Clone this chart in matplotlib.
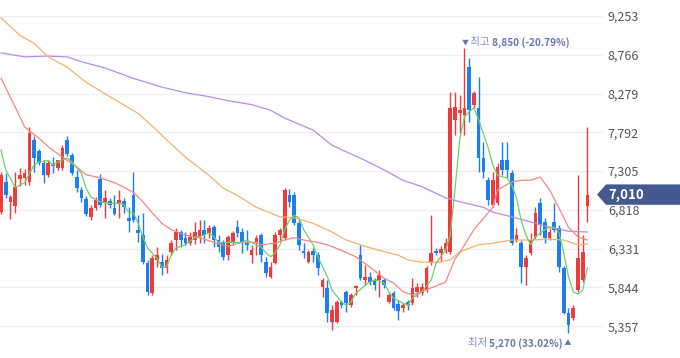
import numpy as np
import matplotlib
matplotlib.use('Agg')
import matplotlib.pyplot as plt
import matplotlib.transforms as mtransforms
from matplotlib.patches import Polygon

plt.rcParams['font.family'] = ['Noto Sans CJK KR', 'DejaVu Sans']

# ============================================================
#  일봉 데이터 (시가 / 고가 / 저가 / 종가)
# ============================================================
opens = [6790, 7170, 6920, 6870, 7210, 7220, 7170, 7700, 7560, 7410,
         7260, 7390, 7340, 7340, 7700, 7510, 7230, 7070, 6950, 6730,
         6840, 7210, 6900, 6930, 6840, 6900, 6930, 6720, 7000, 6570,
         6500, 6150, 5770, 6190, 6160, 6090, 6290, 6440, 6540, 6470,
         6400, 6440, 6460, 6570, 6530, 6600, 6440, 6400, 6250, 6400,
         6600, 6540, 6410, 6250, 6400, 6500, 6160, 5970, 6150, 6500,
         6460, 7000, 7000, 6650, 6300, 6160, 6300, 6250, 5850, 5840,
         5410, 5410, 5660, 5790, 5620, 5840, 6250, 5940, 5980, 5940,
         5940, 5940, 5660, 5770, 5640, 5590, 5660, 5650, 5790, 5770,
         5810, 6160, 6300, 6280, 6310, 6290, 7950, 8040, 8010, 8610,
         8140, 8100, 7470, 7190, 6880, 6900, 7440, 7440, 7280, 6440,
         6400, 6100, 6280, 6480, 6900, 6670, 6470, 6670, 6590, 6090,
         5520, 5460, 5810, 5940, 6870]
highs = [7290, 7280, 7000, 7290, 7340, 7330, 7860, 7750, 7580, 7440,
         7440, 7480, 7440, 7630, 7750, 7530, 7320, 7110, 6990, 6880,
         6980, 7270, 7070, 6970, 7000, 7070, 6970, 6850, 7290, 6750,
         6780, 6190, 6250, 6350, 6260, 6250, 6440, 6590, 6570, 6540,
         6540, 6670, 6690, 6690, 6630, 6630, 6500, 6440, 6500, 6550,
         6690, 6590, 6570, 6380, 6500, 6530, 6230, 6160, 6540, 6590,
         7090, 7080, 7040, 6690, 6400, 6310, 6340, 6290, 5960, 5940,
         5620, 5690, 5690, 5810, 5770, 5870, 6380, 6130, 6040, 5960,
         6060, 5960, 5770, 5800, 5690, 5650, 5690, 5960, 5900, 5900,
         6110, 6750, 6340, 6360, 6460, 8300, 8300, 8260, 8850, 8730,
         8310, 8490, 7670, 7230, 7290, 7410, 7670, 7670, 7320, 6590,
         6440, 6250, 6530, 6850, 6970, 6720, 6590, 6900, 6630, 6110,
         5590, 5620, 7260, 6500, 7860]
lows = [6770, 6970, 6700, 6780, 7120, 7130, 7130, 7290, 7380, 7160,
        7230, 7280, 7320, 7320, 7500, 7260, 7040, 6920, 6740, 6690,
        6820, 6850, 6720, 6840, 6750, 6720, 6780, 6540, 6670, 6410,
        6140, 5750, 5750, 6100, 6000, 6030, 6250, 6310, 6350, 6380,
        6380, 6390, 6400, 6400, 6470, 6350, 6290, 6190, 6190, 6380,
        6480, 6280, 6310, 6150, 6250, 6160, 5970, 5960, 6140, 6440,
        6440, 6850, 6630, 6310, 6210, 6150, 6160, 6000, 5720, 5410,
        5310, 5400, 5590, 5540, 5600, 5750, 5940, 5870, 5870, 5810,
        5720, 5840, 5650, 5560, 5440, 5540, 5560, 5620, 5720, 5750,
        5790, 6130, 6250, 6160, 6280, 6260, 7760, 7780, 7760, 7920,
        8100, 7290, 7220, 6880, 6850, 6880, 7260, 7220, 6380, 6410,
        5900, 5870, 6250, 6450, 6500, 6400, 6440, 6540, 6040, 5510,
        5270, 5440, 5790, 5910, 6670]
closes = [7260, 7000, 6980, 7110, 7260, 7280, 7780, 7470, 7410, 7260,
          7410, 7370, 7440, 7600, 7520, 7280, 7090, 6970, 6770, 6840,
          6940, 6880, 6970, 6880, 6770, 6940, 6850, 6680, 6690, 6530,
          6160, 5790, 6210, 6250, 6090, 6190, 6400, 6540, 6440, 6400,
          6480, 6540, 6570, 6500, 6590, 6440, 6350, 6230, 6480, 6530,
          6530, 6400, 6380, 6310, 6470, 6250, 6030, 6100, 6500, 6570,
          7070, 6920, 6650, 6380, 6280, 6290, 6250, 6090, 5940, 5520,
          5560, 5660, 5620, 5650, 5750, 5860, 5960, 5980, 5910, 5870,
          6000, 5870, 5750, 5590, 5550, 5620, 5620, 5840, 5850, 5850,
          6090, 6280, 6280, 6330, 6400, 8100, 8110, 8070, 8100, 8070,
          8290, 7470, 7290, 6940, 7190, 7360, 7320, 7320, 6400, 6500,
          6100, 6210, 6440, 6780, 6630, 6460, 6540, 6570, 6100, 5520,
          5370, 5590, 6210, 6290, 7010]

# 이동평균선 (차트에서 읽은 값, 봉 인덱스 기준)
ma5_idx = [0, 1, 3, 4, 5, 7, 8, 10, 11, 12, 14, 15, 17, 18, 19, 21, 23, 25, 26, 27,
           28, 29, 30, 31, 33, 34, 35, 36, 37, 39, 41, 42, 44, 45, 46, 48, 49, 51, 52, 53,
           55, 56, 57, 58, 59, 60, 61, 62, 63, 64, 66, 67, 69, 70, 72, 73, 74, 75, 77, 78,
           79, 81, 82, 83, 85, 86, 87, 89, 91, 92, 94, 95, 96, 97, 98, 99, 100, 101, 103, 104,
           105, 107, 108, 109, 110, 111, 112, 113, 115, 116, 117, 118, 119, 120, 121, 122, 123, 124]
ma5 = [7570, 7320, 7100, 7130, 7160, 7380, 7420, 7440, 7380, 7420, 7470, 7420, 7280, 7090, 6980, 6920, 6900, 6900, 6880, 6790,
       6780, 6650, 6480, 6340, 6210, 6100, 6100, 6250, 6340, 6380, 6470, 6480, 6530, 6480, 6410, 6410, 6410, 6410, 6440, 6410,
       6350, 6280, 6230, 6280, 6380, 6570, 6690, 6750, 6720, 6570, 6380, 6230, 5980, 5810, 5660, 5620, 5660, 5770, 5870, 5910,
       5940, 5900, 5790, 5710, 5650, 5620, 5710, 5790, 5940, 6150, 6310, 6500, 7070, 7700, 7990, 8050, 8100, 7950, 7600, 7380,
       7250, 7220, 7130, 6970, 6690, 6500, 6380, 6480, 6570, 6600, 6600, 6530, 6280, 5980, 5790, 5760, 5810, 6090]

ma20_idx = [0, 3, 5, 8, 10, 13, 16, 18, 21, 24, 28, 30, 32, 34, 36, 39, 42, 45, 48, 51,
            54, 55, 58, 60, 62, 64, 67, 69, 72, 75, 78, 81, 83, 85, 87, 89, 91, 94, 96, 97,
            100, 103, 104, 105, 108, 110, 112, 114, 116, 118, 120, 122, 124]
ma20 = [8470, 8110, 7860, 7720, 7610, 7480, 7360, 7260, 7220, 7160, 7040, 6920, 6780, 6650, 6570, 6500, 6470, 6410, 6360, 6410,
        6410, 6380, 6400, 6440, 6470, 6440, 6410, 6380, 6310, 6230, 6100, 5960, 5900, 5790, 5750, 5790, 5840, 5910, 6200, 6280,
        6570, 6780, 6850, 7070, 7170, 7190, 7190, 7230, 7070, 6840, 6600, 6480, 6440]

ma60_idx = [0, 4, 7, 10, 14, 18, 23, 29, 32, 35, 39, 44, 47, 50, 54, 57, 59, 62, 66, 70,
            73, 77, 80, 84, 86, 89, 92, 95, 97, 101, 104, 108, 112, 116, 119, 122, 124]
ma60 = [9230, 9010, 8910, 8740, 8610, 8420, 8240, 8030, 7870, 7700, 7480, 7250, 7090, 7000, 6850, 6780, 6730, 6720, 6650, 6540,
        6440, 6360, 6310, 6250, 6190, 6160, 6160, 6190, 6290, 6380, 6400, 6440, 6440, 6450, 6440, 6380, 6390]

ma120_idx = [0, 5, 10, 14, 17, 22, 28, 34, 39, 44, 48, 53, 57, 60, 66, 70, 77, 81, 85, 89,
             94, 97, 102, 104, 110, 116, 120, 124]
ma120 = [8790, 8740, 8750, 8740, 8680, 8600, 8470, 8360, 8290, 8240, 8190, 8140, 8070, 7970, 7820, 7630, 7440, 7320, 7190, 7110,
         6970, 6920, 6850, 6790, 6700, 6600, 6550, 6540]

y_ticks = [5357, 5844, 6331, 6818, 7305, 7792, 8279, 8766, 9253]

high_idx, high_val, high_pct = 98, 8850, '-20.79%'
low_idx, low_val, low_pct = 120, 5270, '33.02%'

RED = '#F03B3B'
BLUE = '#1C7FEF'
TAG = '#44598F'
ANNO = '#6476AE'
ANNO_LIGHT = '#8290BE'

# ============================================================
#  차트 그리기
# ============================================================
fig = plt.figure(figsize=(6.8, 3.58), dpi=100)
ax = fig.add_axes([0, 0, 603 / 680, 1])

o = np.array(opens)
h = np.array(highs)
l = np.array(lows)
c = np.array(closes)
x = np.arange(len(c))
colors = np.where(c >= o, RED, BLUE)

ax.vlines(x, l, h, colors=colors, linewidth=1.0, zorder=2)
ax.bar(x, np.maximum(np.abs(c - o), 14), bottom=np.minimum(o, c),
       width=0.78, color=colors, linewidth=0, zorder=2)

ax.plot(ma120_idx, ma120, color='#B68AF3', lw=0.9, zorder=3)
ax.plot(ma60_idx, ma60, color='#F7B26C', lw=0.9, zorder=3)
ax.plot(ma20_idx, ma20, color='#FA8585', lw=0.9, zorder=3)
ax.plot(ma5_idx, ma5, color='#6FCF6A', lw=0.9, zorder=3)

ax.set_xlim(-0.21, 127.3)
ax.set_ylim(4958, 9454)
ax.set_xticks([])
ax.yaxis.tick_right()
ax.set_yticks(y_ticks)
ax.set_yticklabels([f'{t:,}' for t in y_ticks])
ax.tick_params(axis='y', length=0, pad=3.5, labelsize=9, labelcolor='#555555')
ax.grid(axis='y', color='#EFF0F7', linewidth=1, zorder=0)
for s in ax.spines.values():
    s.set_visible(False)

# 현재가 태그
blend = mtransforms.blended_transform_factory(fig.transFigure, ax.transData)
last = closes[-1]
hh = 128
tag = Polygon([(597 / 680, last), (606 / 680, last + hh), (1.0, last + hh),
               (1.0, last - hh), (606 / 680, last - hh)],
              closed=True, facecolor=TAG, edgecolor='none',
              transform=blend, clip_on=False, zorder=10)
fig.add_artist(tag)
fig.text(608 / 680, last, f'{last:,}', transform=blend, color='white',
         fontsize=9.5, fontweight='bold', va='center', ha='left', zorder=11)

# 최고 / 최저 표시
fig.canvas.draw()
renderer = fig.canvas.get_renderer()


def place_row(xv, yv, pieces, dx0, dy, align):
    texts = []
    for s, kw in pieces:
        t = ax.annotate(s, xy=(xv, yv), xytext=(0, dy), textcoords='offset pixels',
                        ha='left', va='center', annotation_clip=False, **kw)
        texts.append(t)
    widths = [t.get_window_extent(renderer).width for t in texts]
    start = dx0 if align == 'left' else dx0 - sum(widths)
    for t, w in zip(texts, widths):
        t.set_position((start, dy))
        start += w


place_row(high_idx, high_val,
          [('▼', dict(fontsize=5, color=ANNO)),
           (' 최고 ', dict(fontsize=7.5, color=ANNO_LIGHT)),
           (f'{high_val:,} ({high_pct})', dict(fontsize=7.2, color=ANNO, fontweight='bold'))],
          -3, 6, 'left')
place_row(low_idx, low_val,
          [('최저 ', dict(fontsize=7.5, color=ANNO_LIGHT)),
           (f'{low_val:,} ({low_pct})', dict(fontsize=7.2, color=ANNO, fontweight='bold')),
           (' ▲', dict(fontsize=5, color=ANNO))],
          3, -10, 'right')

plt.savefig('out.png', dpi=100)
plt.close()
